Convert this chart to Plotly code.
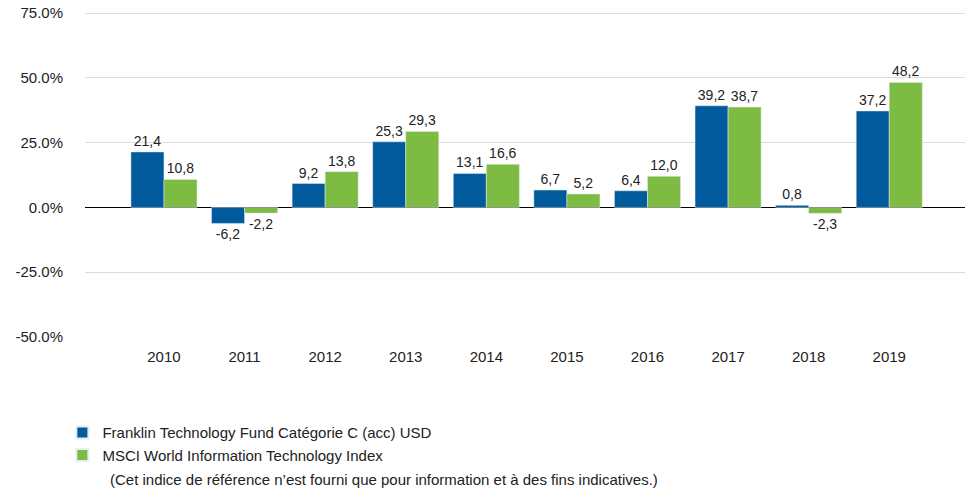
import plotly.graph_objects as go

years = ["2010", "2011", "2012", "2013", "2014", "2015", "2016", "2017", "2018", "2019"]
fund = [21.4, -6.2, 9.2, 25.3, 13.1, 6.7, 6.4, 39.2, 0.8, 37.2]
index = [10.8, -2.2, 13.8, 29.3, 16.6, 5.2, 12.0, 38.7, -2.3, 48.2]
fund_name = "Franklin Technology Fund Catégorie C (acc) USD"
index_name = "MSCI World Information Technology Index"
note = "(Cet indice de référence n’est fourni que pour information et à des fins indicatives.)"
yticks = [-50, -25, 0, 25, 50, 75]
ytick_text = [f"{v:.1f}%" for v in yticks]

FONT = "Liberation Sans, Arial, sans-serif"

def fmt(v):
    return f"{v:.1f}".replace(".", ",")

W, H = 965, 488
L, T, B = 85, 11, 151
plot_h = H - T - B
px_per_unit = 324 / 125
y_top = -50 + plot_h / px_per_unit

fig = go.Figure()
fig.add_trace(go.Bar(x=years, y=fund, name=fund_name, marker_color="#005A9C",
                     text=[fmt(v) for v in fund], textposition="outside", cliponaxis=False,
                     textfont=dict(size=14, color="#222")))
fig.add_trace(go.Bar(x=years, y=index, name=index_name, marker_color="#7DBB42",
                     text=[fmt(v) for v in index], textposition="outside", cliponaxis=False,
                     textfont=dict(size=14, color="#222")))

fig.update_layout(
    width=W, height=H,
    margin=dict(l=L, r=0, t=T, b=B, autoexpand=False),
    paper_bgcolor="white", plot_bgcolor="white",
    font=dict(family=FONT, size=14, color="#222"),
    barmode="group", bargap=0.18, bargroupgap=0,
    showlegend=True,
    legend=dict(x=-0.0257, y=-0.243, xanchor="left", yanchor="top",
                font=dict(size=15, color="#222"), tracegroupgap=0,
                itemsizing="constant", bgcolor="rgba(0,0,0,0)"),
    xaxis=dict(type="category", range=[-0.98, 9.94], showgrid=False, zeroline=False,
               showline=False, ticks="", tickfont=dict(size=15, color="#222"),
               ticklabelstandoff=9),
    yaxis=dict(range=[-50, y_top], tickvals=yticks, ticktext=ytick_text,
               showgrid=True, gridcolor="#dcdcdc", gridwidth=1,
               zeroline=True, zerolinecolor="#000", zerolinewidth=1,
               tickfont=dict(size=15, color="#222"), ticklabelstandoff=21),
    annotations=[dict(text=note, xref="paper", yref="paper", x=(108 - 85) / 880,
                      y=(337 - 480) / plot_h, xanchor="left", yanchor="middle",
                      showarrow=False, font=dict(size=15, color="#222"))],
)

fig.write_html("out.html",
               config={"displayModeBar": False},
               post_script="document.body.style.margin='0';document.body.style.overflow='hidden';")
